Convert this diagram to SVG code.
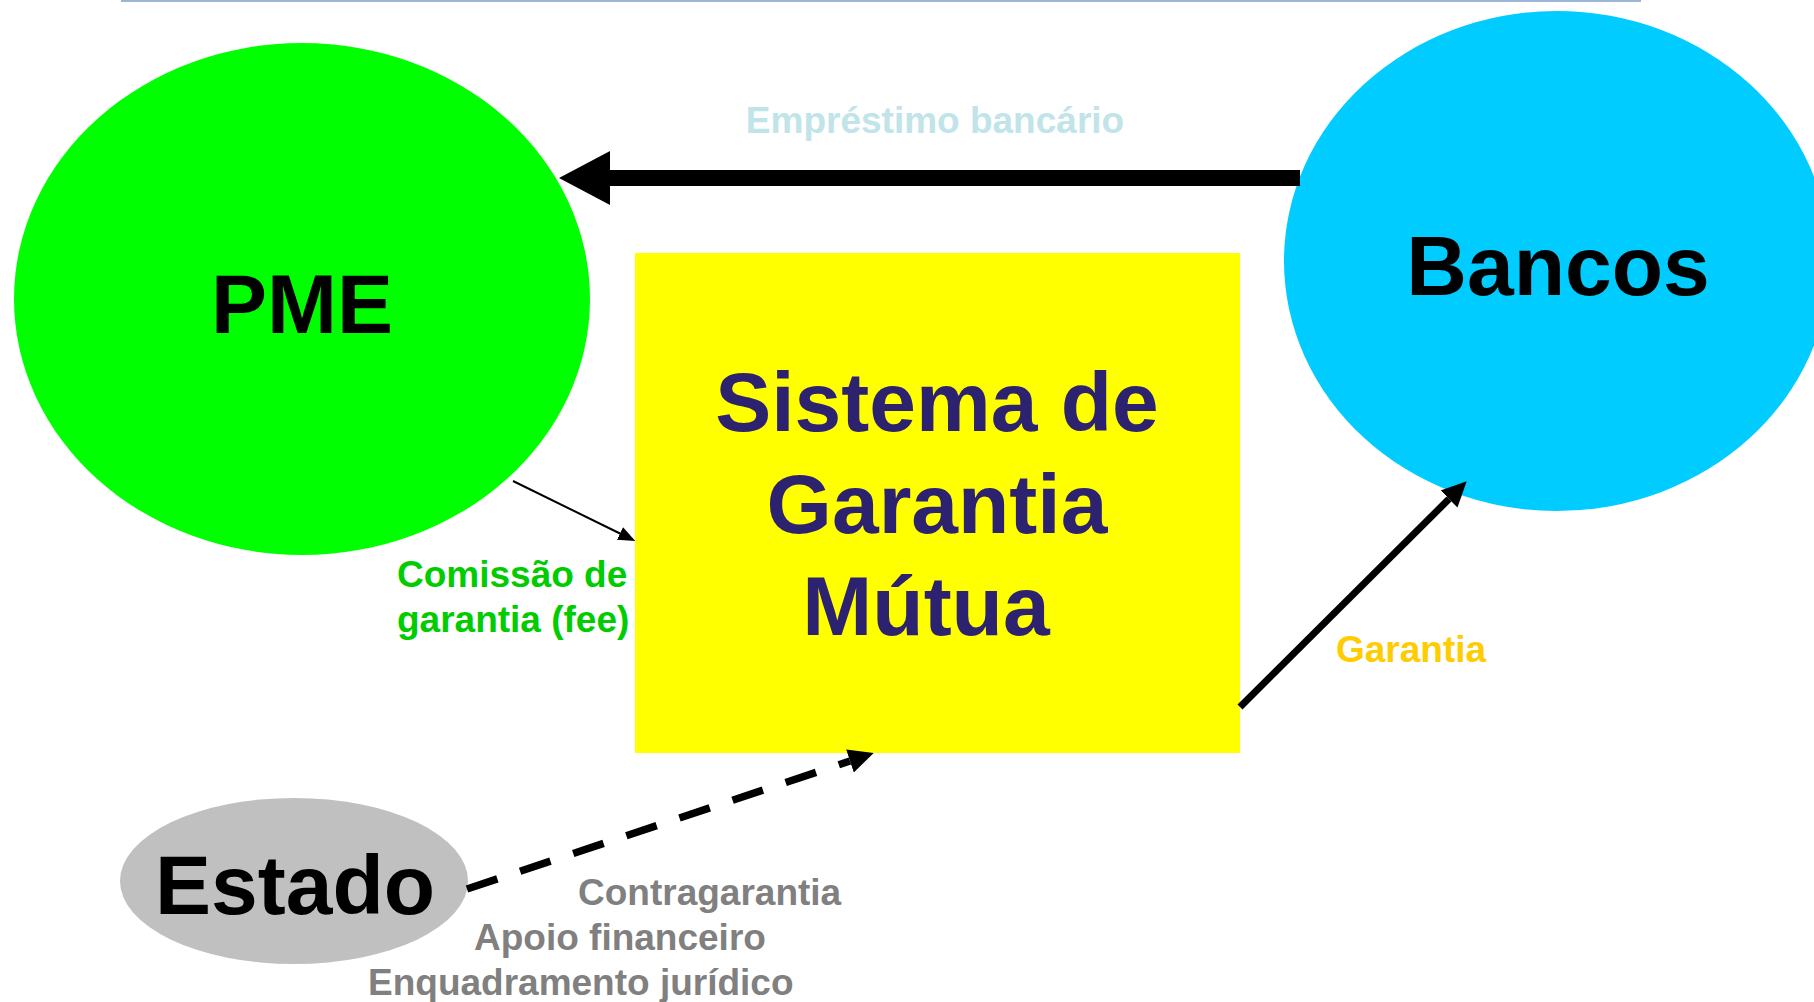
<svg xmlns="http://www.w3.org/2000/svg" width="1814" height="1002" viewBox="0 0 1814 1002">
<style>
text{font-family:"Liberation Sans",Arial,sans-serif;font-weight:bold;}
.big{font-size:84px;}
.lbl{font-size:37px;}
.node-title{fill:#000;text-anchor:middle;}
.sgm{fill:#2d2270;text-anchor:middle;}
</style>
<defs>
<marker id="headBig" markerUnits="userSpaceOnUse" markerWidth="52" markerHeight="56" refX="0" refY="27" orient="auto" viewBox="0 0 52 54">
<path d="M0,0 L51,27 L0,54 Z" fill="#000"/>
</marker>
<marker id="headMid" markerUnits="userSpaceOnUse" markerWidth="30" markerHeight="26" refX="0" refY="12" orient="auto" viewBox="0 0 30 24">
<path d="M0,0 L25,12 L0,24 Z" fill="#000"/>
</marker>
<marker id="headSmall" markerUnits="userSpaceOnUse" markerWidth="18" markerHeight="16" refX="0" refY="7" orient="auto" viewBox="0 0 18 14">
<path d="M0,0 L17,7 L0,14 Z" fill="#000"/>
</marker>
</defs>
<rect width="1814" height="1002" fill="#fff"/>
<line x1="121" y1="1" x2="1641" y2="1" stroke="#9db5d4" stroke-width="2"/>

<g id="node-pme">
<ellipse cx="302" cy="299" rx="288" ry="256" fill="#00ff00"/>
<text class="big node-title" x="302" y="333">PME</text>
</g>
<g id="node-bancos">
<ellipse cx="1557" cy="261" rx="273" ry="250" fill="#00ccff"/>
<text class="big node-title" x="1558" y="295">Bancos</text>
</g>
<g id="node-sgm">
<rect x="635" y="253" width="605" height="500" fill="#ffff00"/>
<text class="big sgm" x="937" y="431">Sistema de</text>
<text class="big sgm" x="937" y="533">Garantia</text>
<text class="big sgm" x="926" y="635">Mútua</text>
</g>
<g id="node-estado">
<ellipse cx="294" cy="881" rx="174" ry="83" fill="#c0c0c0"/>
<text class="big node-title" x="295" y="914">Estado</text>
</g>

<g id="connectors">
<line x1="1300" y1="178" x2="610" y2="178" stroke="#000" stroke-width="16" marker-end="url(#headBig)"/>
<line x1="513" y1="481" x2="620" y2="533.5" stroke="#000" stroke-width="2" marker-end="url(#headSmall)"/>
<line x1="1240" y1="707" x2="1449" y2="499" stroke="#000" stroke-width="7" marker-end="url(#headMid)"/>
<line x1="467" y1="889" x2="850" y2="761" stroke="#000" stroke-width="7.5" stroke-dasharray="32 24" marker-end="url(#headMid)"/>
</g>

<g id="labels">
<text class="lbl" x="935" y="133" text-anchor="middle" fill="#c0e4e8">Empréstimo bancário</text>
<text class="lbl" x="397" y="587" fill="#00cc00">Comissão de</text>
<text class="lbl" x="397" y="632" fill="#00cc00">garantia (fee)</text>
<text class="lbl" x="1336" y="662" fill="#ffcc00">Garantia</text>
<text class="lbl" x="578" y="905" fill="#808080">Contragarantia</text>
<text class="lbl" x="474" y="950" fill="#808080">Apoio financeiro</text>
<text class="lbl" x="368" y="995" fill="#808080">Enquadramento jurídico</text>
</g>
</svg>
